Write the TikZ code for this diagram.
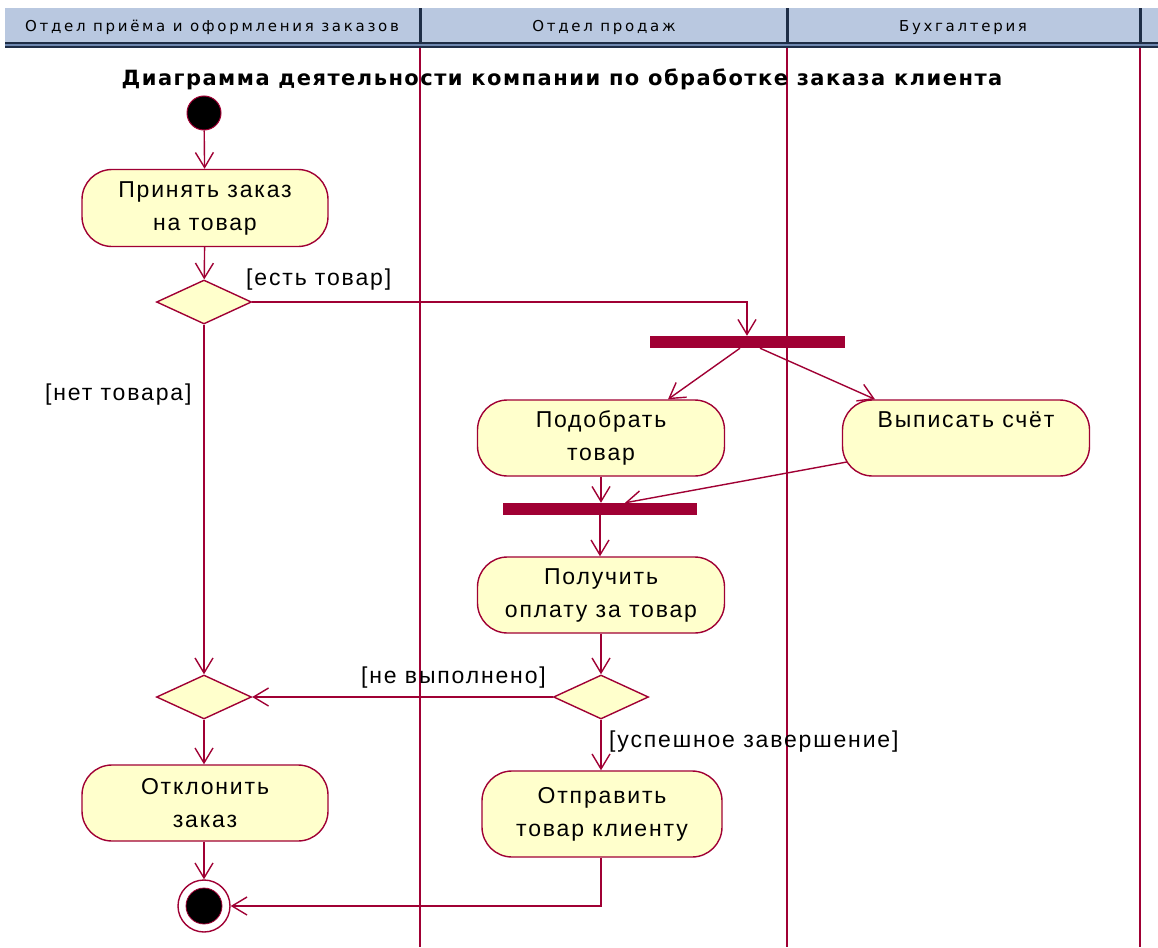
\documentclass[tikz,border=0pt]{standalone}
\usepackage{fontspec}
\setmainfont{Liberation Sans}
\newfontfamily\hdrfont{DejaVu Sans}[LetterSpace=18]
\newfontfamily\ttlfont{DejaVu Sans}[LetterSpace=7]
\newfontfamily\actfont{Liberation Sans}[LetterSpace=8]
\usetikzlibrary{arrows.meta,shapes.geometric}
\definecolor{umlred}{RGB}{160,0,52}
\definecolor{actfill}{RGB}{255,255,204}
\definecolor{hdrbg}{RGB}{185,200,224}
\definecolor{hdrdark}{RGB}{30,45,70}
\definecolor{hdrmid}{RGB}{110,135,175}
\begin{document}
\begin{tikzpicture}[x=1pt,y=-1pt,
  act/.style={draw=umlred, fill=actfill, line width=1.4pt, rounded corners=30pt,
    minimum width=246pt, minimum height=77pt, align=center,
    font=\actfont\fontsize{23}{33}\selectfont, inner sep=0pt},
  dec/.style={diamond, draw=umlred, fill=actfill, line width=1.4pt,
    minimum width=95pt, minimum height=44pt, inner sep=0pt},
  syncbar/.style={fill=umlred, minimum width=195pt, minimum height=12pt, inner sep=0pt},
  flow/.style={draw=umlred, line width=1.4pt,
    -{Straight Barb[length=15pt,width=18pt,line width=1.4pt]}},
  guard/.style={font=\actfont\fontsize{23}{28}\selectfont, inner sep=0pt},
  lane/.style={draw=umlred, line width=1.5pt},
  hdrtext/.style={font=\hdrfont\fontsize{15}{18}\selectfont, inner sep=0pt, anchor=base}
]
\useasboundingbox (0,0) rectangle (1158,947);
\fill[white] (0,0) rectangle (1158,947);
% header
\fill[hdrbg] (5,8) rectangle (1158,43);
\fill[hdrdark] (5,42.5) rectangle (1158,44.5);
\fill[hdrmid] (5,44.5) rectangle (1158,46);
\fill[hdrdark] (5,46) rectangle (1158,48);
\fill[hdrdark] (419,8) rectangle (421.5,44);
\fill[hdrdark] (786,8) rectangle (788.5,44);
\fill[hdrdark] (1139,8) rectangle (1141.5,44);
\node[hdrtext] (h1) at (212,32) {Отдел приёма и оформления заказов};
\node[hdrtext] (h2) at (604,32) {Отдел продаж};
\node[hdrtext] (h3) at (963,32) {Бухгалтерия};
% swimlanes
\draw[lane] (420,48) -- (420,947);
\draw[lane] (787,48) -- (787,947);
\draw[lane] (1140,48) -- (1140,947);
% title
\node[anchor=base, inner sep=0pt, font=\ttlfont\bfseries\fontsize{21}{25}\selectfont] (title) at (562,86)
  {Диаграмма деятельности компании по обработке заказа клиента};
% nodes
\node[circle, fill=black, draw=umlred, line width=1pt, minimum size=34pt, inner sep=0pt] (init) at (204,113) {};
\node[act] (a1) at (205,208) {Принять заказ\\на товар};
\node[dec] (d1) at (204,302) {};
\node[syncbar] (bar1) at (747,342) {};
\node[act, minimum width=247pt, minimum height=76pt] (a2) at (601,438) {Подобрать\\товар};
\node[act, minimum width=247pt, minimum height=76pt] (a3) at (966,438) {Выписать счёт\\\phantom{р}};
\node[syncbar, minimum width=194pt] (bar2) at (600,509) {};
\node[act, minimum width=247pt, minimum height=76pt] (a4) at (601,595) {Получить\\оплату за товар};
\node[dec] (d2) at (601,697) {};
\node[dec] (d3) at (204,697) {};
\node[act, minimum height=76pt] (a5) at (205,803) {Отклонить\\заказ};
\node[act, minimum width=240pt, minimum height=86pt] (a6) at (602,814) {Отправить\\товар клиенту};
\node[circle, draw=umlred, line width=1.4pt, fill=white, minimum size=52pt, inner sep=0pt] (fin) at (204,906) {};
\filldraw[fill=black, draw=umlred, line width=0.8pt] (fin.center) circle[radius=18];
% flows
\draw[flow] (init) -- (a1);
\draw[flow] (a1) -- (d1);
\draw[flow] (d1.east) -| (bar1.north);
\draw[flow] ([xshift=-7pt]bar1.south) -- ([xshift=67pt]a2.north);
\draw[flow] ([xshift=13pt]bar1.south) -- ([xshift=-91pt]a3.north);
\draw[flow] (a2.south) -- (a2.south |- bar2.north);
\draw[flow] ([xshift=5pt,yshift=-24pt]a3.west) -- ([xshift=25pt]bar2.north);
\draw[flow] (bar2.south) -- (bar2.south |- a4.north);
\draw[flow] (a4.south) -- (d2.north);
\draw[flow] (d2.west) -- (d3.east);
\draw[flow] (d1.south) -- (d3.north);
\draw[flow] (d2.south) -- (d2.south |- a6.north);
\draw[flow] (d3.south) -- (a5.north -| d3.south);
\draw[flow] (a5.south -| fin.north) -- (fin.north);
\draw[flow] (a6.south -| d2.south) |- (fin.east);
% guards
\node[guard, anchor=base west] (g1) at (246,285) {[есть товар]};
\node[guard, anchor=base west] (g2) at (45,400) {[нет товара]};
\node[guard, anchor=base west] (g3) at (361,683) {[не выполнено]};
\node[guard, anchor=base west] (g4) at (609,747) {[успешное завершение]};
\end{tikzpicture}
\end{document}
